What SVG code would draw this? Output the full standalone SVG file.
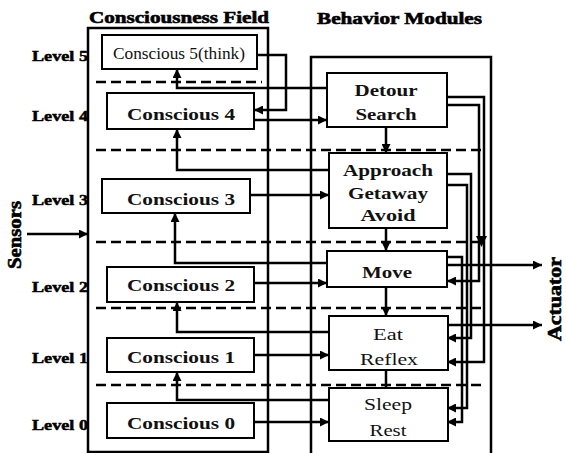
<svg xmlns="http://www.w3.org/2000/svg" width="566" height="453" viewBox="0 0 566 453">
<defs>
<marker id="ah" viewBox="0 0 10 10" refX="10" refY="5" markerWidth="9" markerHeight="9" markerUnits="userSpaceOnUse" orient="auto">
<path d="M0,0 L10,5 L0,10 z" fill="#000"/>
</marker>
</defs>
<style>
.frame{fill:none;stroke:#000;stroke-width:2.5}
.box{fill:#fff;stroke:#000;stroke-width:2}
.dash{fill:none;stroke:#000;stroke-width:2.5;stroke-dasharray:10 5}
.c{fill:none;stroke:#000;stroke-width:2.5}
.a{marker-end:url(#ah)}
.hd{font-family:"Liberation Serif","Times New Roman",serif;font-weight:bold;fill:#000;stroke:#000;stroke-width:0.6}
.lv{font-family:"Liberation Serif","Times New Roman",serif;font-weight:bold;font-size:15px;fill:#000;stroke:#000;stroke-width:0.5}
.t{font-family:"Liberation Serif","Times New Roman",serif;font-size:17px;fill:#111;text-anchor:middle}
.b{font-weight:bold}
</style>
<rect width="566" height="453" fill="#fff"/>

<text class="hd" x="89" y="23" font-size="17" textLength="180" lengthAdjust="spacingAndGlyphs">Consciousness Field</text>
<text class="hd" x="317" y="24" font-size="17" textLength="165" lengthAdjust="spacingAndGlyphs">Behavior Modules</text>

<g id="levels">
<text class="lv" x="32" y="61" textLength="56" lengthAdjust="spacingAndGlyphs">Level 5</text>
<text class="lv" x="32" y="121" textLength="56" lengthAdjust="spacingAndGlyphs">Level 4</text>
<text class="lv" x="32" y="205" textLength="56" lengthAdjust="spacingAndGlyphs">Level 3</text>
<text class="lv" x="32" y="292" textLength="56" lengthAdjust="spacingAndGlyphs">Level 2</text>
<text class="lv" x="32" y="363" textLength="56" lengthAdjust="spacingAndGlyphs">Level 1</text>
<text class="lv" x="32" y="430" textLength="56" lengthAdjust="spacingAndGlyphs">Level 0</text>
</g>

<text class="hd" transform="translate(21,269) rotate(-90)" font-size="18" textLength="68" lengthAdjust="spacingAndGlyphs">Sensors</text>
<text class="hd" transform="translate(561,341) rotate(-90)" font-size="18" textLength="84" lengthAdjust="spacingAndGlyphs">Actuator</text>

<g id="consciousness-field">
<path class="frame" d="M88,452 V28 H268 V452 Z"/>
</g>
<g id="behavior-modules">
<path class="frame" d="M311,453 V57 H491 V453"/>
</g>

<g id="level-separators">
<line class="dash" x1="96" y1="82" x2="262" y2="82"/>
<line class="dash" x1="96" y1="150" x2="486" y2="150"/>
<line class="dash" x1="96" y1="242" x2="486" y2="242"/>
<line class="dash" x1="96" y1="308" x2="486" y2="308"/>
<line class="dash" x1="96" y1="385" x2="486" y2="385"/>
</g>

<g id="connectors">
<line class="c a" x1="27" y1="234" x2="88" y2="234"/>
<path class="c a" d="M257,55 H286 V110 H254"/>
<path class="c a" d="M327,88 H177 V69"/>
<path class="c a" d="M329,170 H177 V129"/>
<path class="c a" d="M327,263 H175 V213"/>
<path class="c a" d="M329,332 H177 V302"/>
<path class="c a" d="M329,400 H177 V372"/>
<line class="c a" x1="254" y1="120" x2="327" y2="120"/>
<line class="c a" x1="250" y1="195" x2="329" y2="195"/>
<line class="c a" x1="254" y1="283" x2="327" y2="283"/>
<line class="c a" x1="254" y1="355" x2="329" y2="355"/>
<line class="c a" x1="254" y1="422" x2="329" y2="422"/>
<line class="c a" x1="386" y1="127" x2="386" y2="153"/>
<line class="c a" x1="386" y1="228" x2="386" y2="251"/>
<line class="c a" x1="386" y1="287" x2="386" y2="316"/>
<line class="c" x1="386" y1="370" x2="386" y2="388"/>
<path class="c a" d="M447,97 H484 V362 H447"/>
<path class="c a" d="M447,105 H479 V281 H447"/>
<path class="c a" d="M447,174 H471 V338 H447"/>
<path class="c a" d="M447,185 H467 V408 H447"/>
<path class="c a" d="M447,257 H462 V422 H447"/>
<path d="M476,236 H487 L481.5,247 Z" fill="#000"/>
<line class="c a" x1="447" y1="265" x2="542" y2="265"/>
<line class="c a" x1="447" y1="325" x2="542" y2="325"/>
</g>

<g id="conscious5">
<rect class="box" x="102" y="35" width="155" height="34"/>
<text class="t" x="179" y="59" font-size="15" textLength="132" lengthAdjust="spacingAndGlyphs">Conscious 5(think)</text>
</g>
<g id="conscious4">
<rect class="box" x="107" y="93" width="147" height="36"/>
<text class="t b" x="181" y="120" textLength="108" lengthAdjust="spacingAndGlyphs">Conscious 4</text>
</g>
<g id="conscious3">
<rect class="box" x="102" y="179" width="148" height="34"/>
<text class="t b" x="181" y="205" textLength="108" lengthAdjust="spacingAndGlyphs">Conscious 3</text>
</g>
<g id="conscious2">
<rect class="box" x="107" y="267" width="147" height="35"/>
<text class="t b" x="181" y="291" textLength="108" lengthAdjust="spacingAndGlyphs">Conscious 2</text>
</g>
<g id="conscious1">
<rect class="box" x="107" y="338" width="147" height="34"/>
<text class="t b" x="181" y="363" textLength="108" lengthAdjust="spacingAndGlyphs">Conscious 1</text>
</g>
<g id="conscious0">
<rect class="box" x="107" y="403" width="147" height="35"/>
<text class="t b" x="181" y="429" textLength="108" lengthAdjust="spacingAndGlyphs">Conscious 0</text>
</g>

<g id="detour-search">
<rect class="box" x="327" y="73" width="120" height="54"/>
<text class="t b" x="386" y="96" textLength="63" lengthAdjust="spacingAndGlyphs">Detour</text>
<text class="t b" x="386" y="120" textLength="61" lengthAdjust="spacingAndGlyphs">Search</text>
</g>
<g id="approach-getaway-avoid">
<rect class="box" x="329" y="153" width="118" height="75"/>
<text class="t b" x="388" y="176" textLength="90" lengthAdjust="spacingAndGlyphs">Approach</text>
<text class="t b" x="388" y="199" textLength="80" lengthAdjust="spacingAndGlyphs">Getaway</text>
<text class="t b" x="388" y="221" textLength="55" lengthAdjust="spacingAndGlyphs">Avoid</text>
</g>
<g id="move">
<rect class="box" x="327" y="251" width="120" height="36"/>
<text class="t b" x="387" y="278" textLength="50" lengthAdjust="spacingAndGlyphs">Move</text>
</g>
<g id="eat-reflex">
<rect class="box" x="329" y="316" width="119" height="54"/>
<text class="t" x="388" y="340" textLength="30" lengthAdjust="spacingAndGlyphs">Eat</text>
<text class="t" x="389" y="365" textLength="58" lengthAdjust="spacingAndGlyphs">Reflex</text>
</g>
<g id="sleep-rest">
<rect class="box" x="329" y="388" width="119" height="53"/>
<text class="t" x="388" y="410" textLength="48" lengthAdjust="spacingAndGlyphs">Sleep</text>
<text class="t" x="388" y="436" textLength="37" lengthAdjust="spacingAndGlyphs">Rest</text>
</g>
</svg>
